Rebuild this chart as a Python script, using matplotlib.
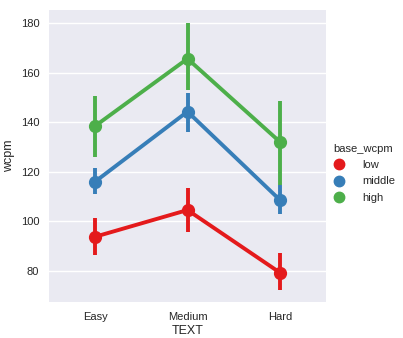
import matplotlib
matplotlib.use("Agg")
import matplotlib.pyplot as plt
from matplotlib.lines import Line2D

categories = ["Easy", "Medium", "Hard"]
groups = ["low", "middle", "high"]
colors = ["#e41a1c", "#377eb8", "#4daf4a"]

low_mean = [93.7, 104.5, 79.2]
low_lo = [86.3, 95.5, 72.2]
low_hi = [101.2, 113.3, 87.0]

middle_mean = [116.0, 144.3, 108.6]
middle_lo = [111.0, 135.9, 102.9]
middle_hi = [121.5, 151.7, 114.6]

high_mean = [138.5, 165.7, 132.1]
high_lo = [126.1, 153.0, 114.6]
high_hi = [150.7, 180.2, 148.7]

series = [(low_mean, low_lo, low_hi), (middle_mean, middle_lo, middle_hi), (high_mean, high_lo, high_hi)]

plt.rcParams['font.family'] = ['Liberation Sans', 'DejaVu Sans']
fig = plt.figure(figsize=(4.03, 3.38), dpi=100)
ax = fig.add_axes([49/403, 1-302/338, 277/403, 292/338])
ax.set_facecolor("#EAEAF2")
for s in ax.spines.values():
    s.set_visible(False)
ax.grid(True, axis='y', color='white', linewidth=1.0)
ax.set_axisbelow(True)

x = list(range(len(categories)))
for z, i in enumerate([0, 2, 1]):
    m, lo, hi = series[i]
    c = colors[i]
    ax.vlines(x, lo, hi, color=c, linewidth=2.8, zorder=3 + z)
    ax.plot(x, m, color=c, linewidth=2.8, marker='o', markersize=8.5, zorder=3 + z)

ax.set_xlim(-0.5, 2.5)
ax.set_ylim(67.3, 185.4)
ax.set_yticks([80, 100, 120, 140, 160, 180])
ax.set_xticks(x)
ax.set_xticklabels(categories)
ax.tick_params(axis='both', length=0, labelsize=8, colors='#262626', pad=7)
ax.set_xlabel("TEXT", fontsize=9, color='#262626', labelpad=2)
ax.set_ylabel("wcpm", fontsize=9, color='#262626', labelpad=4)

handles = [Line2D([], [], color=colors[i], marker='o', linestyle='none', markersize=7.5) for i in range(3)]
leg = fig.legend(handles, groups, title="base_wcpm", loc='center left',
                 bbox_to_anchor=(333/403, 0.487), frameon=False, fontsize=8,
                 title_fontsize=8, handlelength=1.0, handletextpad=1.6,
                 labelspacing=0.55, borderaxespad=0, borderpad=0)
leg._legend_box.align = "left"
leg.get_title().set_color('#262626')
for t in leg.get_texts():
    t.set_color('#262626')

fig.savefig("out.png", dpi=100)
